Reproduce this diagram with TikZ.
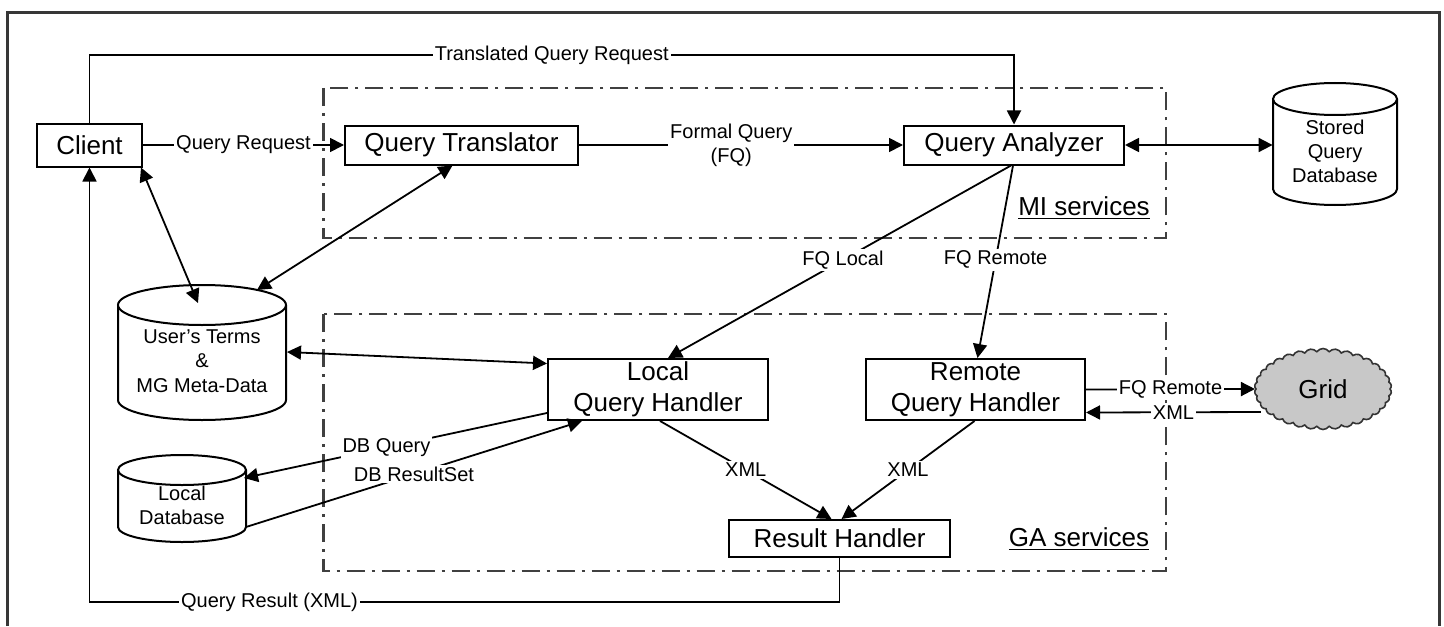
\documentclass[tikz,border=0pt]{standalone}
\usepackage{fontspec}
\setmainfont{Liberation Sans}
\usetikzlibrary{arrows.meta,shapes.symbols}
\definecolor{gridfill}{RGB}{200,200,200}
\definecolor{frameline}{RGB}{55,55,55}
\newcommand\drawcyl[5]{% L R T B r (px)
  \draw[cyl] ({#1},{#3+#5}) -- ({#1},{#4-#5}) arc[start angle=180,end angle=360,x radius={(#2-#1)*0.25pt},y radius={#5*0.5pt}] -- ({#2},{#3+#5});
  \draw[cyl] ({(#1+#2)/2},{#3+#5}) ellipse[x radius={(#2-#1)*0.25pt},y radius={#5*0.5pt}];}
\begin{document}
\begin{tikzpicture}[x=0.5pt,y=-0.5pt,
  box/.style={draw=black,line width=1pt,fill=white,inner sep=0pt,font=\fontsize{13}{15.5}\selectfont,align=center},
  lbl/.style={fill=white,inner sep=1pt,font=\fontsize{10}{12}\selectfont,align=center},
  cyltxt/.style={inner sep=0pt,font=\fontsize{10}{12}\selectfont,align=center},
  arr/.style={line width=0.9pt,-{Triangle[length=7pt,width=7pt]}},
  dbl/.style={line width=0.9pt,{Triangle[length=7pt,width=7pt]}-{Triangle[length=7pt,width=7pt]}},
  dashdot/.style={line width=1.3pt,black!75,dash pattern=on 9pt off 3.5pt on 1.5pt off 3.5pt},
  cyl/.style={line width=1pt,fill=white},
  svc/.style={inner sep=0pt,font=\fontsize{13}{15}\selectfont}]
\useasboundingbox (0,0) rectangle (1444,626);
% frame
\draw[line width=1.5pt,frameline] (7,626) -- (7,13) -- (1439,13) -- (1439,626);
% service boxes
\draw[dashdot] (323.7,88) rectangle (1166,238);
\draw[dashdot] (323.7,314) rectangle (1166,571);
% cylinders
\drawcyl{1273}{1397}{83}{205}{16}
\drawcyl{118}{286}{285}{420}{20}
\drawcyl{118}{246}{455}{542}{15}
\node[cyltxt] (sqdtxt) at (1335,151) {Stored\\Query\\Database};
\node[cyltxt] (userstxt) at (202,361) {User's Terms\\[0.3pt]\&\\[0.3pt]MG Meta-Data};
\node[cyltxt] (ldbtxt) at (182,505) {Local\\Database};
\node[inner sep=0pt,minimum width=62pt,minimum height=61pt] (sqd) at (1335,145) {};
\coordinate (usersA) at (198,303);
\coordinate (usersB) at (257,290);
\coordinate (usersC) at (287,352);
\coordinate (ldbA) at (244,478);
\coordinate (ldbB) at (246,527);
% boxes
\node[box,minimum width=52.5pt,minimum height=21.5pt] (client) at (89.5,145) {Client};
\node[box,minimum width=116.5pt,minimum height=19.5pt] (qt) at (461.5,145) {Query Translator};
\node[box,minimum width=110pt,minimum height=19.5pt] (qa) at (1014,145) {Query Analyzer};
\node[box,minimum width=110pt,minimum height=30.5pt] (lqh) at (658,389.5) {Local\\Query Handler};
\node[box,minimum width=109.5pt,minimum height=30.5pt] (rqh) at (975.5,389.5) {Remote\\Query Handler};
\node[box,minimum width=110.5pt,minimum height=18.5pt] (rh) at (839.5,538.5) {Result Handler};
\node[cloud,cloud puffs=34,cloud puff arc=110,cloud ignores aspect,draw=black!80,line width=0.8pt,fill=gridfill,minimum width=68.5pt,minimum height=40.5pt,inner sep=0pt,font=\fontsize{13}{15}\selectfont] (grid) at (1323,389) {Grid};
% service labels
\node[svc] (mi) at (1084,208) {\underline{MI services}};
\node[svc] (ga) at (1079,539) {\underline{GA services}};
% connectors
\draw[arr] (client.east) -- node[lbl]{Query Request} (qt.west);
\coordinate (tqc) at (89.5,55);
\coordinate (tqa) at (1014,55);
\draw[arr] (client.north) -- (tqc) -- node[lbl]{Translated Query Request} (tqa) -- (qa.north);
\draw[arr] (qt.east) -- node[lbl,pos=0.47]{Formal Query\\(FQ)} (qa.west);
\draw[dbl] (qa.east) -- (sqd.west);
\draw[arr] ([xshift=-1.5pt]qa.south) -- node[lbl,pos=0.49]{FQ Local} ([xshift=5pt]lqh.north);
\draw[arr] ([xshift=-0.5pt]qa.south) -- node[lbl,pos=0.49]{FQ Remote} ([xshift=1pt]rqh.north);
\draw[dbl] ([xshift=-1pt]client.south east) -- (usersA);
\draw[dbl] ([xshift=-4.5pt]qt.south) -- (usersB);
\draw[dbl] (usersC) -- ([yshift=13pt]lqh.west);
\draw[arr] ([yshift=-11.75pt]lqh.west) -- node[lbl,pos=0.53]{DB Query} (ldbA);
\draw[arr] (ldbB) -- node[lbl,pos=0.5]{DB ResultSet} ([xshift=17.5pt]lqh.south west);
\draw[arr] (rqh.east) -- node[lbl]{FQ Remote} (grid.west);
\draw[arr] ([xshift=3pt,yshift=-11.5pt]grid.west) -- node[lbl]{XML} ([yshift=-11.5pt]rqh.east);
\draw[arr] ([xshift=1pt]lqh.south) -- node[lbl]{XML} ([xshift=-4pt]rh.north);
\draw[arr] ([xshift=-0.5pt]rqh.south) -- node[lbl]{XML} ([xshift=1pt]rh.north);
\coordinate (qr1) at (839.5,602);
\coordinate (qr2) at (89.5,602);
\draw[arr] (rh.south) -- (qr1) -- node[lbl,pos=0.76]{Query Result (XML)} (qr2) -- (client.south);
\end{tikzpicture}
\end{document}
